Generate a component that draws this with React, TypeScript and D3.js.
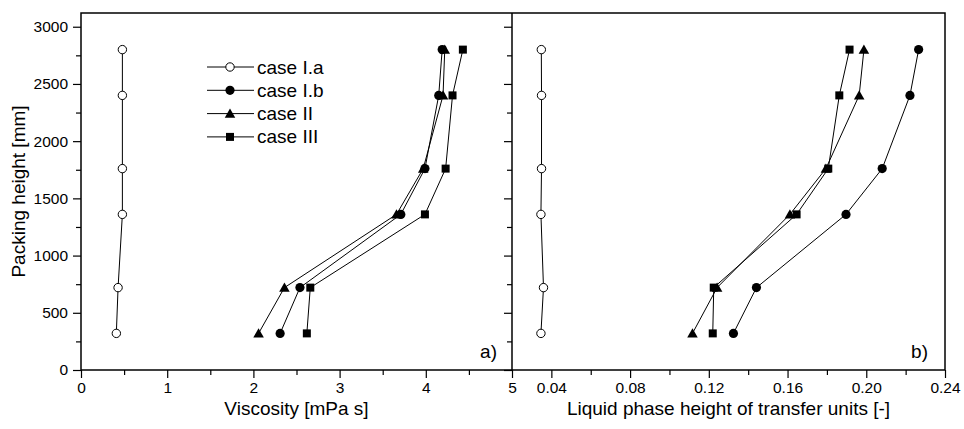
import React, { useEffect, useRef } from 'react';
import * as d3 from 'd3';

// packing heights [mm] shared by every series
const heights = [320, 720, 1360, 1760, 2400, 2800];

// panel a) viscosity [mPa s]
const viscCaseIa = [0.41, 0.43, 0.48, 0.48, 0.48, 0.48];
const viscCaseIb = [2.31, 2.54, 3.71, 3.99, 4.15, 4.19];
const viscCaseII = [2.06, 2.36, 3.66, 3.97, 4.2, 4.22];
const viscCaseIII = [2.62, 2.66, 3.99, 4.23, 4.31, 4.43];

// panel b) liquid phase HTU [-]
const htuCaseIa = [0.0347, 0.036, 0.0347, 0.035, 0.035, 0.0349];
const htuCaseIb = [0.1325, 0.1442, 0.1897, 0.2081, 0.2222, 0.2266];
const htuCaseII = [0.1117, 0.1242, 0.1612, 0.1795, 0.1964, 0.1988];
const htuCaseIII = [0.122, 0.1225, 0.1646, 0.1807, 0.1863, 0.1915];

const seriesNames = ['case I.a', 'case I.b', 'case II', 'case III'];
const seriesSymbols = ['openCircle', 'circle', 'triangle', 'square'];

const yTicks = [0, 500, 1000, 1500, 2000, 2500, 3000];
const yMinorTicks = [250, 750, 1250, 1750, 2250, 2750];
const xTicksA = [0, 1, 2, 3, 4, 5];
const xMinorTicksA = [0.5, 1.5, 2.5, 3.5, 4.5];
const xTicksB = [0.04, 0.08, 0.12, 0.16, 0.2, 0.24];
const xMinorTicksB = [0.06, 0.1, 0.14, 0.18, 0.22];

const FONT = '"Liberation Sans", Arial, sans-serif';

const App = () => {
  const ref = useRef(null);

  useEffect(() => {
    const root = d3.select(ref.current);
    root.selectAll('*').remove();

    const W = 964, H = 429;
    const top = 13, bottom = 370;
    const leftA = 81, mid = 512, rightB = 945;

    const svg = root.append('svg')
      .attr('width', W)
      .attr('height', H)
      .style('display', 'block')
      .style('font-family', FONT);

    svg.append('rect').attr('width', W).attr('height', H).attr('fill', 'white');

    const y = d3.scaleLinear().domain([0, 3120]).range([bottom, top]);
    const xA = d3.scaleLinear().domain([0, 5]).range([leftA, mid]);
    const xB = d3.scaleLinear().domain([0.02, 0.24]).range([mid, rightB]);

    // frame
    svg.append('rect')
      .attr('x', leftA).attr('y', top)
      .attr('width', rightB - leftA).attr('height', bottom - top)
      .attr('fill', 'none').attr('stroke', '#000').attr('stroke-width', 1.5);
    svg.append('line')
      .attr('x1', mid).attr('x2', mid).attr('y1', top).attr('y2', bottom)
      .attr('stroke', '#000').attr('stroke-width', 1.5);

    const styleAxis = (g) => {
      g.select('.domain').remove();
      g.selectAll('line').attr('stroke', '#000').attr('stroke-width', 1.2);
      g.selectAll('text').attr('font-family', FONT).attr('font-size', 15.5).attr('fill', '#000');
    };

    // y axes
    svg.append('g').attr('transform', `translate(${leftA},0)`)
      .call(d3.axisLeft(y).tickValues(yMinorTicks).tickSize(5).tickFormat(() => ''))
      .call(styleAxis);
    svg.append('g').attr('transform', `translate(${leftA},0)`)
      .call(d3.axisLeft(y).tickValues(yTicks).tickSize(8).tickPadding(5).tickFormat(d3.format('d')))
      .call(styleAxis);
    svg.append('g').attr('transform', `translate(${mid},0)`)
      .call(d3.axisLeft(y).tickValues(yMinorTicks).tickSize(5).tickFormat(() => ''))
      .call(styleAxis);
    svg.append('g').attr('transform', `translate(${mid},0)`)
      .call(d3.axisLeft(y).tickValues(yTicks).tickSize(8).tickFormat(() => ''))
      .call(styleAxis);

    // x axes
    svg.append('g').attr('transform', `translate(0,${bottom})`)
      .call(d3.axisBottom(xA).tickValues(xMinorTicksA).tickSize(5).tickFormat(() => ''))
      .call(styleAxis);
    svg.append('g').attr('transform', `translate(0,${bottom})`)
      .call(d3.axisBottom(xA).tickValues(xTicksA).tickSize(8).tickPadding(4).tickFormat(d3.format('d')))
      .call(styleAxis);
    svg.append('g').attr('transform', `translate(0,${bottom})`)
      .call(d3.axisBottom(xB).tickValues(xMinorTicksB).tickSize(5).tickFormat(() => ''))
      .call(styleAxis);
    svg.append('g').attr('transform', `translate(0,${bottom})`)
      .call(d3.axisBottom(xB).tickValues(xTicksB).tickSize(8).tickPadding(4).tickFormat(d3.format('.2f')))
      .call(styleAxis);

    // axis titles
    svg.append('text')
      .attr('x', (leftA + mid) / 2).attr('y', 415)
      .attr('text-anchor', 'middle').attr('font-size', 19)
      .text('Viscosity [mPa s]');
    svg.append('text')
      .attr('x', (mid + rightB) / 2).attr('y', 415)
      .attr('text-anchor', 'middle').attr('font-size', 19)
      .text('Liquid phase height of transfer units [-]');
    svg.append('text')
      .attr('transform', `translate(25,${(top + bottom) / 2}) rotate(-90)`)
      .attr('text-anchor', 'middle').attr('font-size', 19)
      .text('Packing height [mm]');

    // panel labels
    svg.append('text').attr('x', 497).attr('y', 358)
      .attr('text-anchor', 'end').attr('font-size', 19).text('a)');
    svg.append('text').attr('x', 928).attr('y', 358)
      .attr('text-anchor', 'end').attr('font-size', 19).text('b)');

    const drawSymbol = (g, kind, cx, cy) => {
      if (kind === 'openCircle') {
        g.append('circle').attr('cx', cx).attr('cy', cy).attr('r', 4.2)
          .attr('fill', '#fff').attr('stroke', '#000').attr('stroke-width', 1);
      } else if (kind === 'circle') {
        g.append('circle').attr('cx', cx).attr('cy', cy).attr('r', 4.6).attr('fill', '#000');
      } else if (kind === 'triangle') {
        g.append('path')
          .attr('d', d3.symbol().type(d3.symbolTriangle).size(48)())
          .attr('transform', `translate(${cx},${cy + 1})`)
          .attr('fill', '#000');
      } else {
        g.append('rect').attr('x', cx - 4).attr('y', cy - 4)
          .attr('width', 8).attr('height', 8).attr('fill', '#000');
      }
    };

    const line = (x) => d3.line().x((d) => x(d[0])).y((d) => y(d[1]));

    const drawPanel = (x, seriesList) => {
      const g = svg.append('g');
      seriesList.forEach((vals) => {
        const pts = vals.map((v, i) => [v, heights[i]]);
        g.append('path').datum(pts)
          .attr('d', line(x))
          .attr('fill', 'none').attr('stroke', '#000').attr('stroke-width', 1);
      });
      seriesList.forEach((vals, si) => {
        vals.forEach((v, i) => drawSymbol(g, seriesSymbols[si], x(v), y(heights[i])));
      });
    };

    drawPanel(xA, [viscCaseIa, viscCaseIb, viscCaseII, viscCaseIII]);
    drawPanel(xB, [htuCaseIa, htuCaseIb, htuCaseII, htuCaseIII]);

    // legend
    const legend = svg.append('g');
    seriesNames.forEach((name, i) => {
      const ly = 67 + i * 23.3;
      legend.append('line').attr('x1', 207).attr('x2', 254).attr('y1', ly).attr('y2', ly)
        .attr('stroke', '#000').attr('stroke-width', 1);
      drawSymbol(legend, seriesSymbols[i], 230, ly);
      legend.append('text').attr('x', 257).attr('y', ly + 6.5)
        .attr('font-size', 19).text(name);
    });
  }, []);

  return <div ref={ref} style={{ position: 'absolute', left: 0, top: 0 }}></div>;
};

export default App;
